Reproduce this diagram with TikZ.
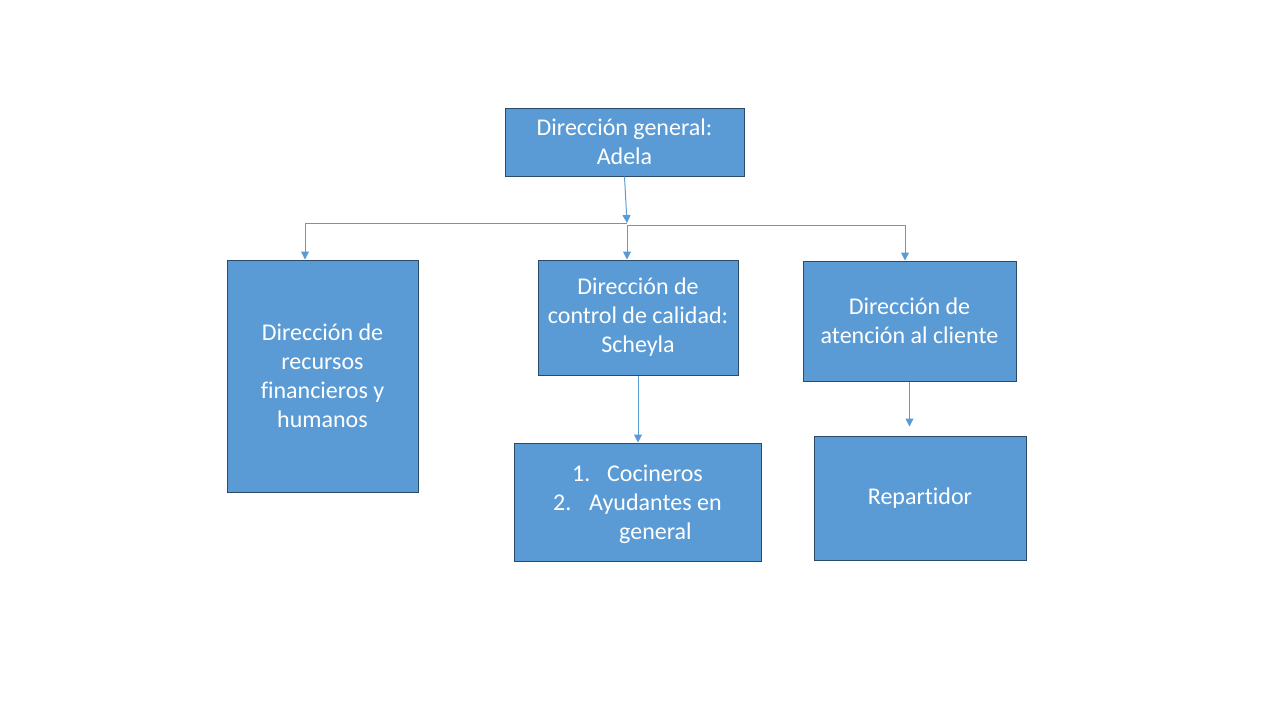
\documentclass[tikz,border=0pt]{standalone}
\usepackage{fontspec}
\setmainfont[Ligatures=NoCommon]{Carlito}
\usetikzlibrary{arrows.meta,calc}
\definecolor{boxfill}{HTML}{5B9BD5}
\definecolor{boxline}{HTML}{2E4A6B}
\definecolor{conn}{HTML}{5B9BD5}
\begin{document}
\begin{tikzpicture}[x=1pt,y=-1pt,
  orgbox/.style={draw=boxline,line width=1pt,fill=boxfill,text=white,align=center,
    inner sep=0pt,font=\fontsize{24}{29}\selectfont},
  conline/.style={draw=conn,line width=1pt,-{Triangle[width=8pt,length=8pt]}},
  listtxt/.style={text=white,inner sep=0pt,font=\fontsize{24}{29}\selectfont,anchor=base west}]
\useasboundingbox (0,0) rectangle (1280,720);
\node[orgbox,minimum width=239pt,minimum height=68pt] (t) at (624.5,142) {Dirección general:\\Adela};
\node[orgbox,minimum width=191pt,minimum height=232pt] (l) at (322.5,376) {Dirección de\\recursos\\financieros y\\humanos};
\node[orgbox,minimum width=200pt,minimum height=115pt] (m) at (638,317.5) {Dirección de\\control de calidad:\\Scheyla};
\node[orgbox,minimum width=213pt,minimum height=120pt] (r) at (909.5,321) {Dirección de\\atención al cliente};
\node[orgbox,minimum width=247pt,minimum height=118pt] (c) at (638,502) {};
\node[orgbox,minimum width=212pt,minimum height=124pt] (p) at (920,498) {Repartidor};
\node[listtxt] (c1n) at (572,481) {1.};
\node[listtxt] (c1t) at (607,481) {Cocineros};
\node[listtxt] (c2n) at (553,510) {2.};
\node[listtxt] (c2t) at (589,510) {Ayudantes en};
\node[listtxt] (c3t) at (619,539) {general};
\coordinate (j) at (627,223);
\coordinate (jr) at (627,225);
\draw[conline] (t.south) -- (j);
\draw[conline] (j) -| ([xshift=-17.5pt]l.north);
\draw[conline] (jr) -- (m.north -| jr);
\draw[conline] (jr) -| ([xshift=-4.5pt]r.north);
\draw[conline] (m.south) -- (c.north);
\draw[conline,shorten >=9pt] (r.south) -- (r.south |- p.north);
\end{tikzpicture}
\end{document}
